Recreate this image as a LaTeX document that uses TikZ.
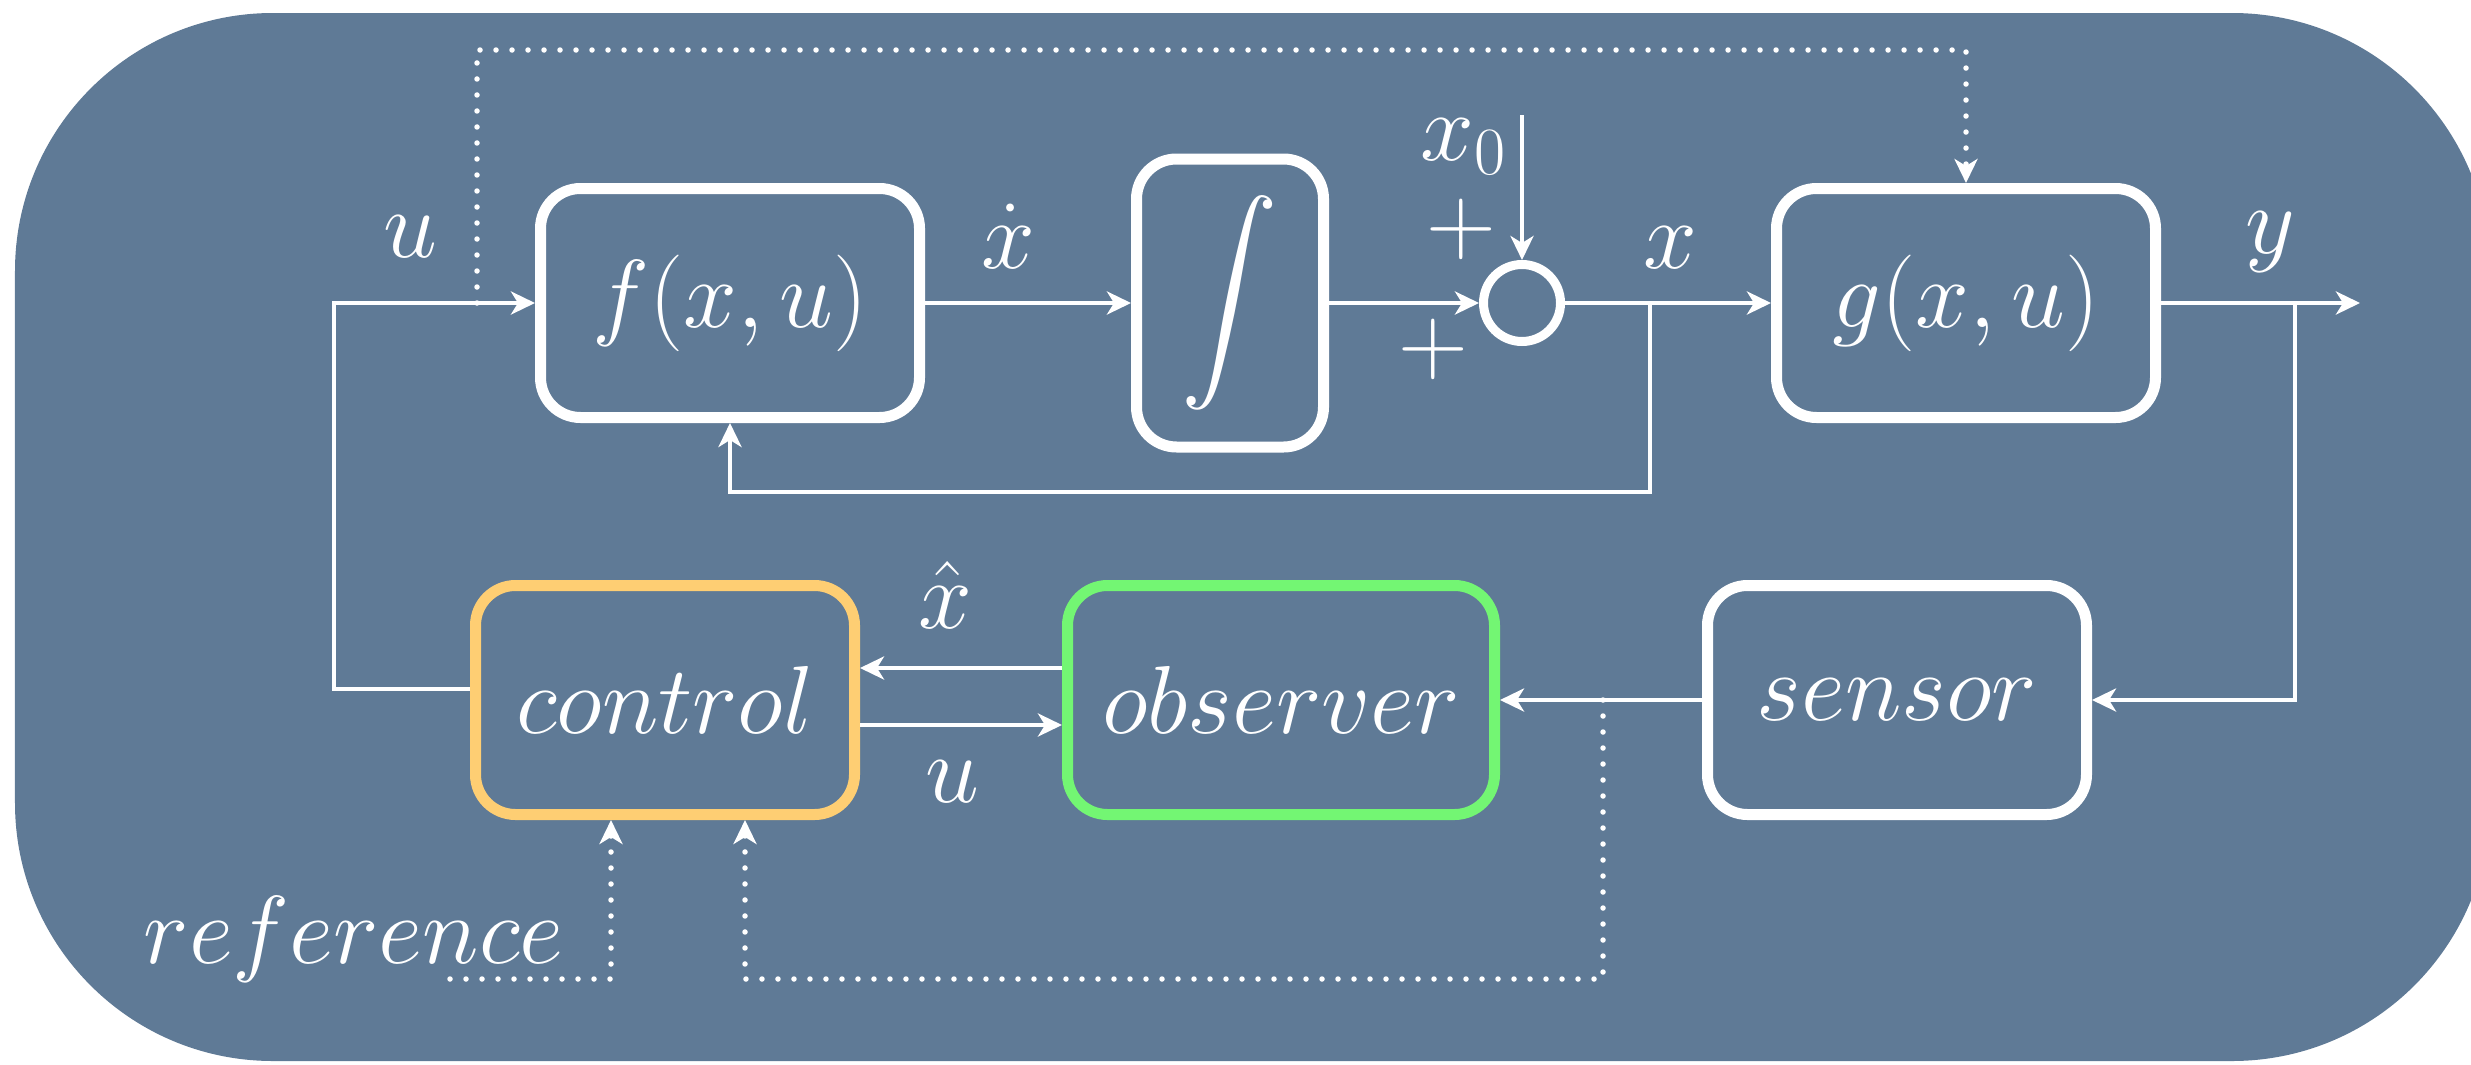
\RequirePackage{fix-cm}
\documentclass[tikz,border=0pt]{standalone}
\usepackage{amsmath,amssymb}
\usepackage{xcolor}
\usepackage{tikz}
\usetikzlibrary{arrows.meta,positioning}
\definecolor{slate}{RGB}{95,122,150}
\definecolor{ctrlc}{RGB}{254,206,115}
\definecolor{obsc}{RGB}{115,246,115}

\begin{document}
\begin{tikzpicture}[
  blk/.style={draw=white, line width=0.11cm, rounded corners=0.4cm, minimum width=3.79cm, minimum height=2.29cm, inner sep=0pt, text=white, font=\fontsize{27.5}{33}\selectfont},
  lbl/.style={text=white, inner sep=0pt, anchor=base, font=\fontsize{27.5}{33}\selectfont},
  sig/.style={white, line width=0.045cm, -{Stealth[length=0.24cm, width=0.23cm, inset=0.07cm]}},
  dots/.style={line width=0.055cm, line cap=round, dash pattern=on 0pt off 0.16cm}
]
  \useasboundingbox (0,0) rectangle (24.71,10.64);
  % backdrop
  \fill[slate, rounded corners=2.58cm] (0.15,0.03) rectangle (24.90,10.51);
  % plant row
  \node[blk] (f) at (7.30,7.61) {$f(x,u)$};
  \node[blk, minimum width=1.87cm, minimum height=2.88cm] (int) at (12.30,7.61) {$\displaystyle\int$};
  \node[circle, draw=white, line width=0.09cm, minimum size=0.77cm, inner sep=0pt] (sum) at (15.22,7.61) {};
  \node[blk] (g) at (19.66,7.61) {$g(x,u)$};
  % estimation row
  \node[blk, draw=ctrlc] (ctrl) at (6.65,3.64) {$control$};
  \node[blk, draw=obsc, minimum width=4.27cm] (obs) at (12.81,3.64) {$observer$};
  \node[blk] (sens) at (18.97,3.64) {$sensor$};
  % free ends and taps
  \coordinate (x0top) at (15.22,9.49);
  \coordinate (xsplit) at (16.50,7.61);
  \coordinate (xfb) at (16.50,5.72);
  \coordinate (ysplit) at (22.95,7.61);
  \coordinate (yout) at (23.60,7.61);
  \coordinate (ucorner) at (3.34,7.61);
  \coordinate (utap) at (4.77,7.61);
  \coordinate (utop) at (4.77,10.14);
  \coordinate (ytap) at (16.03,3.64);
  \coordinate (ybot) at (16.03,0.85);
  \coordinate (refend) at (4.50,0.85);
  % signal flow
  \draw[sig] (f) -- (int);
  \draw[sig] (int) -- (sum);
  \draw[sig] (x0top) -- (sum);
  \draw[sig] (sum) -- (g);
  \draw[sig] (xsplit) -- (xfb) -| (f.south);
  \draw[sig] (g) -- (yout);
  \draw[sig] (ysplit) |- (sens);
  \draw[sig] (sens) -- (obs);
  \draw[sig] ([yshift=0.32cm]obs.west) -- ([yshift=0.32cm]ctrl.east);
  \draw[sig] ([yshift=-0.25cm]ctrl.east) -- ([yshift=-0.25cm]obs.west);
  \draw[sig] ([yshift=0.11cm]ctrl.west) -| (ucorner) -- (f);
  % dotted side paths
  \draw[sig, dots] (utap) -- (utop) -| (g.north);
  \draw[sig, dots] (ytap) -- (ybot) -| ([xshift=0.80cm]ctrl.south);
  \draw[sig, dots] (refend) -| ([xshift=-0.54cm]ctrl.south);
  % labels
  \node[lbl] (lu) at (4.10,8.07) {$u$};
  \node[lbl] (lxd) at (10.08,7.96) {$\dot{x}$};
  \node[lbl] (lx) at (16.70,7.96) {$x$};
  \node[lbl] (ly) at (22.70,8.11) {$y$};
  \node[lbl] (lx0) at (14.64,9.04) {$x_0$};
  \node[lbl, anchor=center] (pa) at (14.61,8.35) {$+$};
  \node[lbl, anchor=center] (pb) at (14.33,7.15) {$+$};
  \node[lbl] (lxh) at (9.45,4.36) {$\hat{x}$};
  \node[lbl] (lu2) at (9.52,2.62) {$u$};
  \node[lbl] (lref) at (3.54,1.01) {$reference$};
\end{tikzpicture}
\end{document}
